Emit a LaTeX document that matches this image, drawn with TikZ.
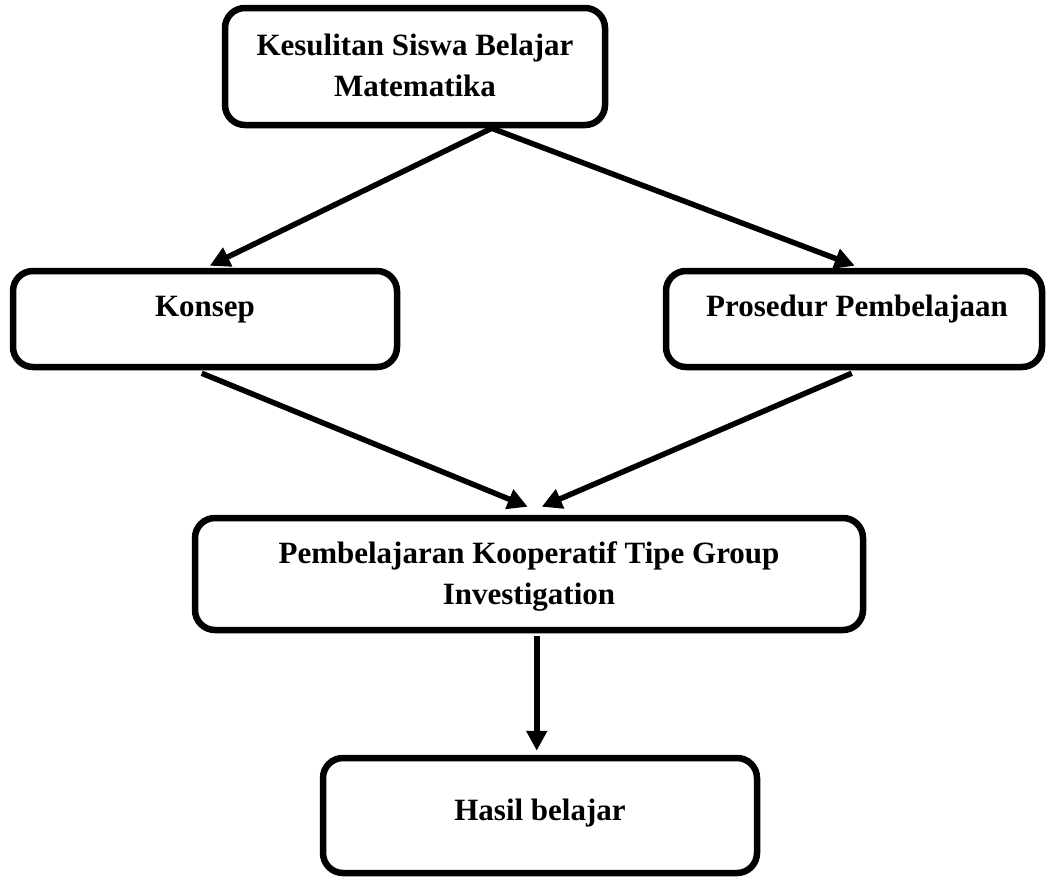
\documentclass[tikz,border=0pt]{standalone}
\usepackage{fontspec}
\setmainfont{Liberation Serif}
\usetikzlibrary{arrows.meta,calc}
\begin{document}
\begin{tikzpicture}[x=1pt,y=-1pt,
  box/.style={draw, line width=6.5pt, rounded corners=20pt, inner sep=0pt},
  lbl/.style={font=\fontsize{31}{41}\selectfont\bfseries, align=center, inner sep=0pt},
  arr/.style={line width=5.5pt, -{Triangle[length=20pt,width=20pt]}}]
\useasboundingbox (0,0) rectangle (1047,879);
% boxes
\node[box, minimum width=380pt, minimum height=117pt] (top) at (415,66.5) {};
\node[box, minimum width=384pt, minimum height=96pt] (konsep) at (205,319) {};
\node[box, minimum width=376pt, minimum height=96pt] (prosedur) at (854,319) {};
\node[box, minimum width=668pt, minimum height=112pt] (gi) at (529,574) {};
\node[box, minimum width=434pt, minimum height=115pt] (hasil) at (540,815.5) {};
% texts
\node[lbl] (ttop) at (415,65) {Kesulitan Siswa Belajar\\Matematika};
\node[lbl] (tkonsep) at (205,310) {Konsep};
\node[lbl] (tprosedur) at (857,309) {Prosedur Pembelajaan};
\node[lbl] (tgi) at (529,576) {Pembelajaran Kooperatif Tipe Group\\Investigation};
\node[lbl] (thasil) at (540,813) {Hasil belajar};
% connector ends
\coordinate (a0) at ($(top.south west)+(270,0)$);
\coordinate (a1) at ($(konsep.north west)+(200,-2)$);
\coordinate (a2) at ($(prosedur.north west)+(192,-2)$);
\coordinate (b1) at ($(konsep.south west)+(192,3)$);
\coordinate (b2) at ($(prosedur.south west)+(189,3)$);
\coordinate (c1) at ($(gi.north west)+(336,-8)$);
\coordinate (c2) at ($(gi.north west)+(350,-8)$);
\coordinate (d0) at ($(gi.south west)+(345,3)$);
\coordinate (d1) at ($(hasil.north west)+(217,-4)$);
% connectors
\draw[arr] (a0) -- (a1);
\draw[arr] (a0) -- (a2);
\draw[arr] (b1) -- (c1);
\draw[arr] (b2) -- (c2);
\draw[arr] (d0) -- (d1);
\end{tikzpicture}
\end{document}
